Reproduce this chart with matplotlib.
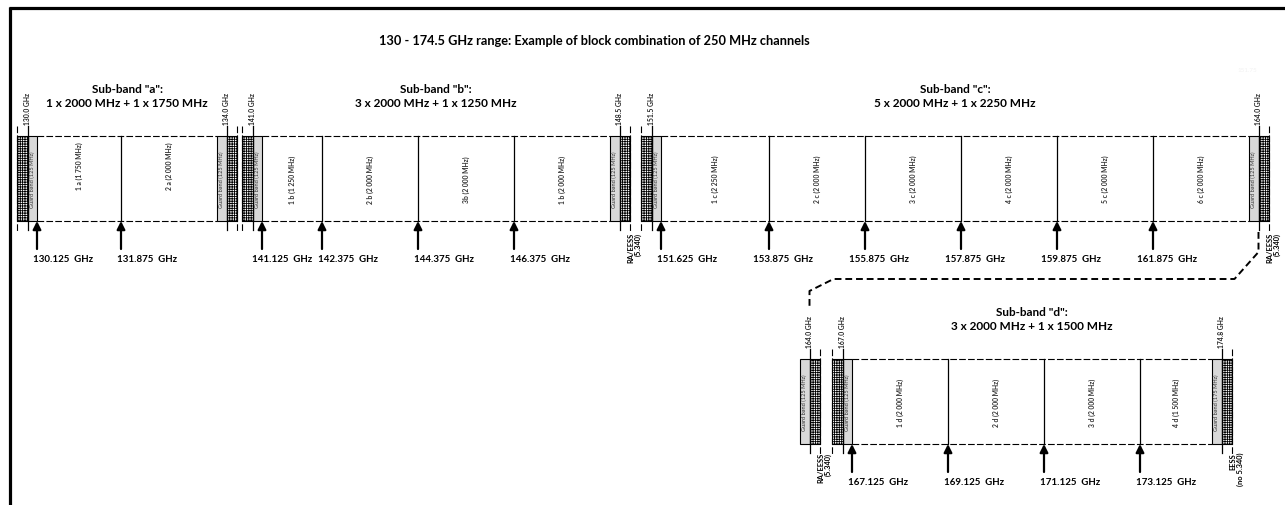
import matplotlib.pyplot as plt
from matplotlib.patches import Rectangle

plt.rcParams["font.family"] = ["Lato", "DejaVu Sans"]
plt.rcParams["hatch.linewidth"] = 0.6

# ---- content -------------------------------------------------------------
TITLE = "130 - 174.5 GHz range: Example of block combination of 250 MHz channels"
SUBBANDS = ["a", "b", "c", "d"]
SPLITS = [
    "1 x 2000 MHz + 1 x 1750 MHz",
    "3 x 2000 MHz + 1 x 1250 MHz",
    "5 x 2000 MHz + 1 x 2250 MHz",
    "3 x 2000 MHz + 1 x 1500 MHz",
]
BAND_LOW = [130.0, 141.0, 151.5, 167.0]
BAND_HIGH = [134.0, 148.5, 164.0, 174.8]
GUARD_LOW_MHZ = [125, 125, 125, 125]
GUARD_HIGH_MHZ = [125, 125, 125, 175]
CHANNEL_STARTS = [
    [130.125, 131.875],
    [141.125, 142.375, 144.375, 146.375],
    [151.625, 153.875, 155.875, 157.875, 159.875, 161.875],
    [167.125, 169.125, 171.125, 173.125],
]
CHANNEL_LABELS = [
    ["1 a (1 750 MHz)", "2 a (2 000 MHz)"],
    ["1 b (1 250 MHz)", "2 b (2 000 MHz)", "3b (2 000 MHz)", "1 b (2 000 MHz)"],
    ["1 c (2 250 MHz)", "2 c (2 000 MHz)", "3 c (2 000 MHz)",
     "4 c (2 000 MHz)", "5 c (2 000 MHz)", "6 c (2 000 MHz)"],
    ["1 d (2 000 MHz)", "2 d (2 000 MHz)", "3 d (2 000 MHz)", "4 d (1 500 MHz)"],
]
RA_EESS = "RA/EESS\n(5.340)"
EESS_NO = "EESS\n(no 5.340)"

# ---- layout (pixels) -----------------------------------------------------
W, H = 1285, 506
PX_PER_GHZ = 48.0
ANCHOR_PX = [37, 262, 661, 852]      # x of first channel start per sub-band
ROW_TOP = [137, 137, 137, 360]
ROW_H = 85
GUARD_W = 9.5
HATCH_W = 10.5
GAP_W = 12
LABEL_NUDGE = {141.125: -10, 153.875: -16, 155.875: -16, 157.875: -16,
               159.875: -16, 161.875: -16}

GRAY = "#d9d9d9"
DASH = (0, (6, 2))


def xpos(i, f):
    return ANCHOR_PX[i] + (f - CHANNEL_STARTS[i][0]) * PX_PER_GHZ


def guard(ax, x, top, mhz):
    ax.add_patch(Rectangle((x, top), GUARD_W, ROW_H, fc=GRAY, ec="black", lw=0.8))
    ax.text(x + GUARD_W / 2, top + ROW_H / 2, f"Guard band ({mhz} MHz)", rotation=90,
            ha="center", va="center", fontsize=4.1, color="#333333")


def hatched(ax, x, top):
    ax.add_patch(Rectangle((x, top), HATCH_W, ROW_H, fc="white", ec="black",
                           lw=0.8, hatch="+++++++"))


def edge(ax, x, top, f):
    bot = top + ROW_H
    ax.plot([x, x], [top - 10, bot + 9], color="black", lw=0.9)
    ax.text(x, top - 12, f"{f:.1f} GHz", rotation=90, ha="center", va="bottom",
            fontsize=4.9, fontweight="bold", color="#222222")


def dashed_edge(ax, x, top):
    ax.plot([x, x], [top - 10, top + ROW_H + 10], color="black", lw=0.8, ls=DASH)


def note(ax, x, y, s):
    ax.text(x + 4.5, y, s, rotation=90, ha="center", va="top", multialignment="right",
            fontsize=5.4, fontweight="bold", linespacing=1.15)


fig = plt.figure(figsize=(W / 100, H / 100), dpi=100)
ax = fig.add_axes([0, 0, 1, 1])
ax.set_xlim(0, W)
ax.set_ylim(H, 0)
ax.axis("off")

# frame (top and left only)
ax.plot([9, W], [9, 9], color="black", lw=2.3, solid_capstyle="butt")
ax.plot([10, 10], [8, H], color="black", lw=2.3, solid_capstyle="butt")

ax.text(594, 41, TITLE, ha="center", va="center", fontsize=9.2, fontweight="bold")
ax.text(1247, 70, "151.75", ha="center", va="center", fontsize=4.5, color="#f2f2f2")

outer = {}
for i, name in enumerate(SUBBANDS):
    top = ROW_TOP[i]
    bot = top + ROW_H
    starts = CHANNEL_STARTS[i]
    ch_end = BAND_HIGH[i] - GUARD_HIGH_MHZ[i] / 1000
    xs = [xpos(i, f) for f in starts] + [xpos(i, ch_end)]
    x0, x1 = xs[0], xs[-1]
    lo_edge, hi_edge = x0 - GUARD_W, x1 + GUARD_W

    guard(ax, lo_edge, top, GUARD_LOW_MHZ[i])
    hatched(ax, lo_edge - HATCH_W, top)
    guard(ax, x1, top, GUARD_HIGH_MHZ[i])
    hatched(ax, hi_edge, top)
    edge(ax, lo_edge, top, BAND_LOW[i])
    edge(ax, hi_edge, top, BAND_HIGH[i])
    dashed_edge(ax, lo_edge - HATCH_W, top)
    dashed_edge(ax, hi_edge + HATCH_W, top)
    outer[name] = (lo_edge - HATCH_W, hi_edge + HATCH_W, lo_edge, hi_edge)

    ax.plot([x0, x1], [top, top], color="black", lw=0.8, ls=DASH)
    ax.plot([x0, x1], [bot, bot], color="black", lw=0.8, ls=DASH)
    for x in xs[1:-1]:
        ax.plot([x, x], [top, bot], color="black", lw=0.9)

    for k, lab in enumerate(CHANNEL_LABELS[i]):
        yc = top + ROW_H / 2 - (13 if name == "a" else 0)
        ax.text((xs[k] + xs[k + 1]) / 2, yc, lab, rotation=90, ha="center", va="center",
                fontsize=4.9, fontweight="bold", color="#333333")

    for f, x in zip(starts, xs[:-1]):
        ax.annotate("", xy=(x, bot), xytext=(x, bot + 28),
                    arrowprops=dict(arrowstyle="-|>,head_length=0.6,head_width=0.3",
                                    lw=1.6, color="black", shrinkA=0, shrinkB=0,
                                    mutation_scale=8))
        ax.text(x + LABEL_NUDGE.get(f, -4), bot + 38, f"{f:.3f}  GHz", ha="left",
                va="center", fontsize=7, fontweight="bold")

    cx = (lo_edge + hi_edge) / 2
    ax.text(cx, top - 48, f'Sub-band "{name}":', ha="center", va="center",
            fontsize=8.5, fontweight="bold")
    ax.text(cx, top - 34, SPLITS[i], ha="center", va="center",
            fontsize=8.5, fontweight="bold")

# RA/EESS notes on the top row
row0_bot = ROW_TOP[0] + ROW_H
note(ax, outer["b"][1], row0_bot + 11, RA_EESS)
note(ax, outer["c"][1], row0_bot + 11, RA_EESS)

# sub-band "d": repeated upper edge of "c" in front of it
d_top = ROW_TOP[3]
d_bot = d_top + ROW_H
xd164 = outer["d"][0] - GAP_W - HATCH_W
guard(ax, xd164 - GUARD_W, d_top, GUARD_HIGH_MHZ[2])
hatched(ax, xd164, d_top)
edge(ax, xd164, d_top, BAND_HIGH[2])
dashed_edge(ax, xd164 + HATCH_W, d_top)
note(ax, xd164 + HATCH_W, d_bot + 8, RA_EESS)
note(ax, outer["d"][1], d_bot + 8, EESS_NO)

# dashed connector from 164.0 GHz ("c") down to 164.0 GHz ("d")
xc164 = outer["c"][3]
cx_pts = [xc164, xc164, xc164 - 24, xd164 + 24, xd164, xd164]
cy_pts = [row0_bot + 11, row0_bot + 31, d_top - 80, d_top - 80, d_top - 68, d_top - 52]
ax.plot(cx_pts, cy_pts, color="black", lw=1.4, ls=(0, (3.5, 2)))

fig.savefig("out.png", dpi=100, facecolor="white")
